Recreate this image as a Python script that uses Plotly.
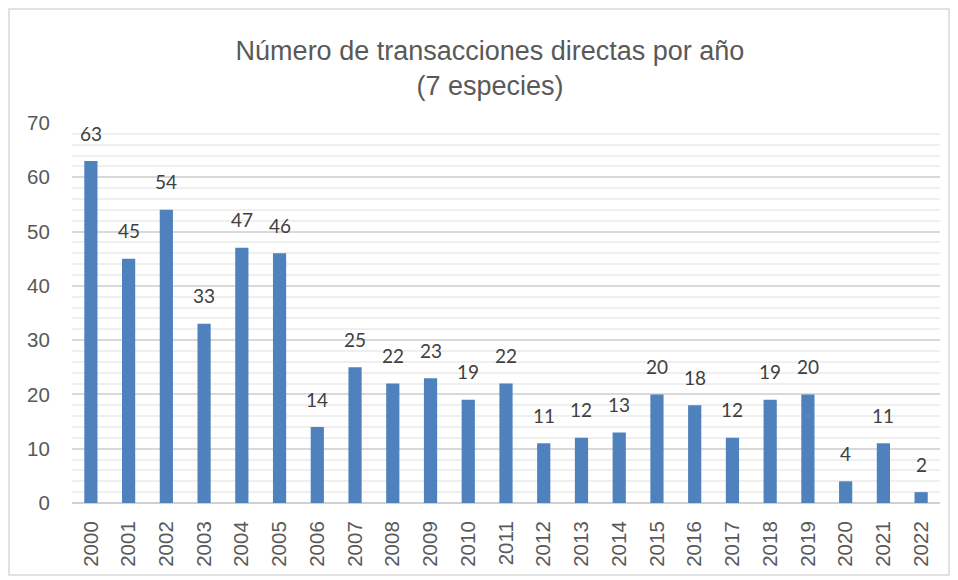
import plotly.graph_objects as go

years = [str(y) for y in range(2000, 2023)]
values = [63, 45, 54, 33, 47, 46, 14, 25, 22, 23, 19, 22, 11, 12, 13, 20, 18, 12, 19, 20, 4, 11, 2]
title_text = "Número de transacciones directas por año<br>(7 especies)"

# the page body adds an 8px offset, so the figure is sized to fit the window
W, H = 950, 572
L, R, T, B = 64, 18, 115, 77
pw, ph = W - L - R, H - T - B

fig = go.Figure(go.Bar(
    x=years, y=values,
    marker=dict(color="#4f81bd", line=dict(width=0)),
    cliponaxis=False,
))

# data labels: category axis positions are given by category index
for i, v in enumerate(values):
    fig.add_annotation(x=i, y=v, text=str(v), showarrow=False, xref="x", yref="y",
                       yanchor="middle", yshift=28,
                       font=dict(family="Lato, Open Sans, sans-serif", size=19, color="#404040"))

tickfont = dict(family="Liberation Sans, Arial, sans-serif", size=20.5, color="#595959")

fig.update_layout(
    width=W, height=H,
    margin=dict(l=L, r=R, t=T, b=B, autoexpand=False),
    paper_bgcolor="white", plot_bgcolor="white",
    bargap=0.65,
    showlegend=False,
    title=dict(text=title_text, x=482 / W, xanchor="center", y=1 - 52 / H, yanchor="middle",
               yref="container", automargin=False,
               font=dict(family="Liberation Sans, Arial, sans-serif", size=27, color="#595959")),
    xaxis=dict(type="category", tickangle=-90, automargin=False, range=[-0.5, len(years) - 0.5],
               tickfont=tickfont,
               showgrid=False, ticks="outside", ticklen=9, tickcolor="white", showline=False),
    yaxis=dict(range=[0, 70], dtick=10, automargin=False,
               tickfont=tickfont,
               gridcolor="#d9d9d9", gridwidth=1.5, zeroline=True, zerolinecolor="#d0d0d0", zerolinewidth=2,
               ticks="outside", ticklen=17, tickcolor="white",
               minor=dict(dtick=2, showgrid=True, gridcolor="#efefef", gridwidth=1.5)),
    shapes=[dict(type="rect", xref="paper", yref="paper",
                 x0=(1 - L) / pw, x1=(941 - L) / pw,
                 y0=(H - B - 567) / ph, y1=(H - B - 1) / ph,
                 line=dict(color="#d9d9d9", width=1.5), fillcolor="rgba(0,0,0,0)")],
)

fig.write_html("out.html")
